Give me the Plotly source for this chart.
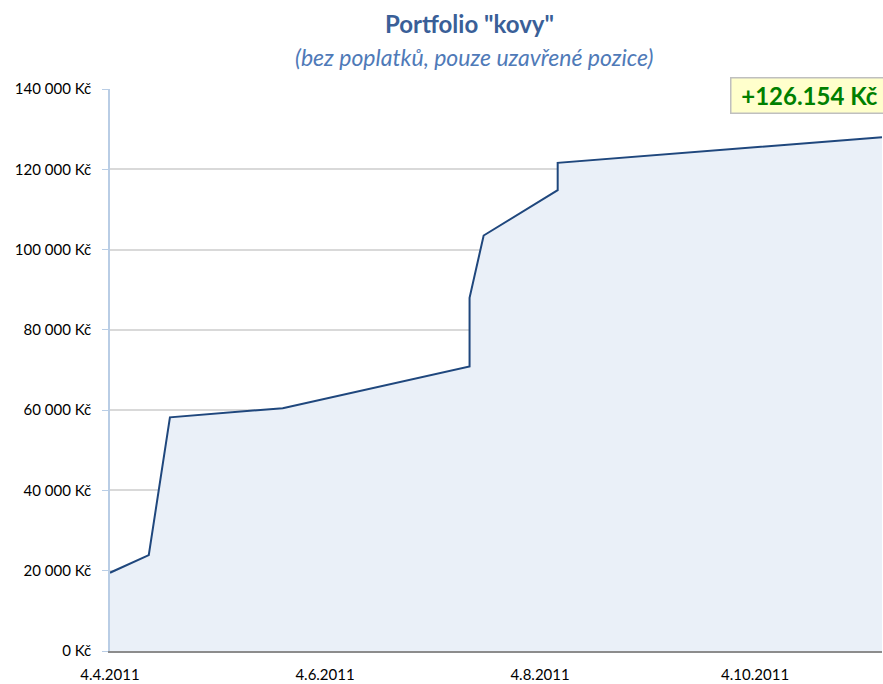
import plotly.graph_objects as go

dates = ["2011-04-04", "2011-04-15", "2011-04-21", "2011-05-23", "2011-07-15",
         "2011-07-15", "2011-07-19", "2011-08-09", "2011-08-09", "2011-11-09"]
values = [19500, 23900, 58200, 60500, 70900, 88000, 103500, 114800, 121600, 128000]

y_ticks = [0, 20000, 40000, 60000, 80000, 100000, 120000, 140000]
y_labels = ["0 Kč", "20 000 Kč", "40 000 Kč", "60 000 Kč", "80 000 Kč",
            "100 000 Kč", "120 000 Kč", "140 000 Kč"]
x_ticks = ["2011-04-04", "2011-06-04", "2011-08-04", "2011-10-04"]
x_labels = ["4.4.2011", "4.6.2011", "4.8.2011", "4.10.2011"]

title = 'Portfolio "kovy"'
subtitle = "(bez poplatků, pouze uzavřené pozice)"
total_label = "+126.154 Kč"

FONT = "Lato"


def px_x(sx):
    return (sx - 110) / 772


def px_y(sy):
    return (653 - sy) / 564


fig = go.Figure()
fig.add_trace(go.Scatter(
    x=dates, y=values, mode="lines",
    line=dict(color="#1f477d", width=2),
    fill="tozeroy", fillcolor="#eaf0f8",
    hoverinfo="skip", showlegend=False,
))

fig.update_layout(
    width=883, height=684,
    margin=dict(l=110, r=1, t=89, b=31),
    paper_bgcolor="white", plot_bgcolor="white",
    font=dict(family=FONT, color="#000000", size=15),
    showlegend=False,
    xaxis=dict(
        type="date",
        range=["2011-04-04", "2011-11-09"],
        tickvals=x_ticks, ticktext=x_labels,
        showgrid=False, zeroline=False,
        showline=True, linecolor="#8c8c8c", linewidth=1.5,
        ticks="", ticklabelstandoff=9,
        tickfont=dict(size=15, family=FONT),
    ),
    yaxis=dict(
        range=[0, 140000],
        tickvals=y_ticks, ticktext=y_labels,
        showgrid=True, gridcolor="#d9d9d9", gridwidth=1.5,
        zeroline=False,
        showline=True, linecolor="#b9cde5", linewidth=1.5,
        ticks="outside", ticklen=6, tickcolor="#b9cde5",
        ticklabelstandoff=8,
        tickfont=dict(size=15, family=FONT),
    ),
    annotations=[
        dict(text="<b>" + title + "</b>", xref="paper", yref="paper",
             x=px_x(469), y=px_y(23), xanchor="center", yanchor="middle",
             showarrow=False, font=dict(size=24, color="#3a5f98", family=FONT)),
        dict(text="<i>" + subtitle + "</i>", xref="paper", yref="paper",
             x=px_x(474), y=px_y(57), xanchor="center", yanchor="middle",
             showarrow=False, font=dict(size=23, color="#4f7ab8", family=FONT)),
        dict(text="<b>" + total_label + "</b>", xref="paper", yref="paper",
             x=px_x(730), y=px_y(77), xanchor="left", yanchor="top",
             width=150, height=28, align="center", valign="middle",
             showarrow=False, font=dict(size=24, color="#008000", family=FONT),
             bgcolor="#ffffcc", bordercolor="#bfbfbf", borderwidth=1.5,
             borderpad=3),
    ],
)

fig.write_html(
    "out.html",
    config={"displayModeBar": False},
    post_script="document.body.style.margin='0';document.body.style.overflow='hidden';",
)
